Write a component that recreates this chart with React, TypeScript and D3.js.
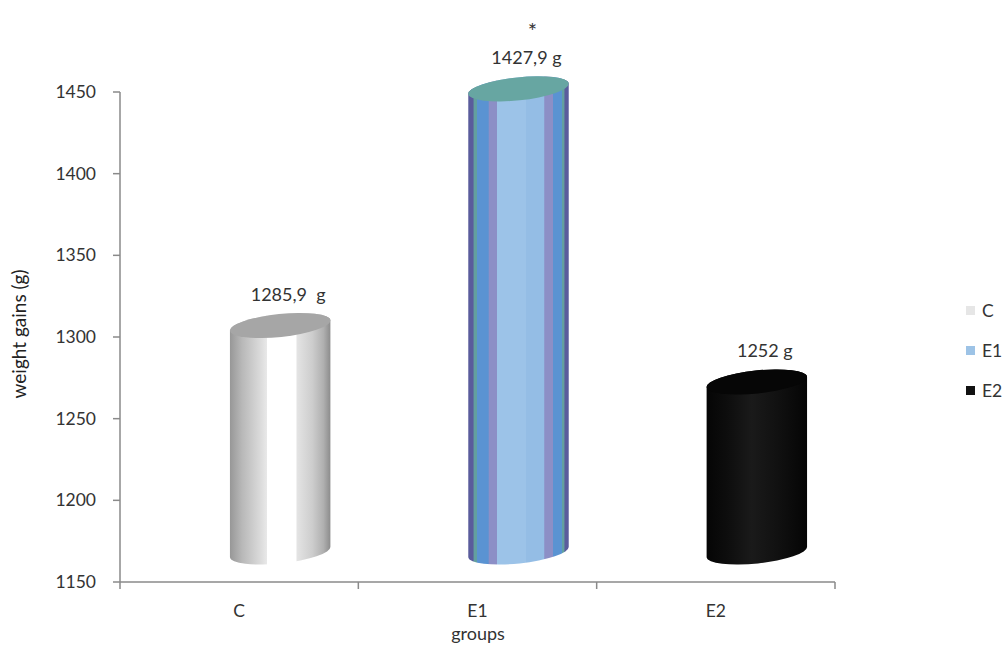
import React from "react";
import * as d3 from "d3";

const categories = ["C", "E1", "E2"];
const values = [1285.9, 1427.9, 1252];
const valueLabels = ["1285,9  g", "1427,9 g", "1252 g"];
const significance = ["", "*", ""];
const yTicks = [1150, 1200, 1250, 1300, 1350, 1400, 1450];
const legendColors = ["#e6e6e6", "#9dc3e6", "#111111"];

const W = 1005;
const H = 645;
const FONT = "Lato, 'Open Sans', sans-serif";

const gradients: { id: string; stops: [number, string][] }[] = [
  {
    id: "gC",
    stops: [
      [0, "#979797"], [0.12, "#b8b8b8"], [0.3, "#dadada"], [0.365, "#e8e8e8"],
      [0.37, "#ffffff"], [0.66, "#ffffff"], [0.665, "#e4e4e4"], [0.82, "#cdcdcd"],
      [0.93, "#b0b0b0"], [1, "#8c8c8c"],
    ],
  },
  {
    id: "gE1",
    stops: [
      [0, "#5a5c9c"], [0.05, "#5a5c9c"], [0.055, "#63a0a0"], [0.085, "#63a0a0"],
      [0.09, "#5a93d2"], [0.2, "#5a93d2"], [0.205, "#8c8fc6"], [0.285, "#8c8fc6"],
      [0.29, "#9cc3e8"], [0.57, "#9cc3e8"], [0.575, "#94bde5"], [0.755, "#94bde5"],
      [0.76, "#8c8fc6"], [0.84, "#8c8fc6"], [0.845, "#5a93d2"], [0.93, "#5a93d2"],
      [0.935, "#63a0a0"], [0.955, "#63a0a0"], [0.96, "#5a5c9c"], [1, "#5a5c9c"],
    ],
  },
  {
    id: "gE2",
    stops: [
      [0, "#050505"], [0.2, "#0d0d0d"], [0.45, "#1a1a1a"], [0.7, "#111111"], [1, "#050505"],
    ],
  },
];
const topFills = ["#a6a6a6", "#67a6a2", "#060606"];

export default function App() {
  const y = d3.scaleLinear().domain([1150, 1450]).range([582, 92]);
  const x = d3.scaleBand<string>().domain(categories).range([120, 835]);
  // projected (3D front plane) scale for the cylinders
  const y3 = d3.scaleLinear().domain([1150, 1450]).range([552, 52]);
  const depthShift = 41;
  const rx = 50.5;
  const ry = 11.5;
  const tilt = -6;
  const th = (tilt * Math.PI) / 180;
  const dx = rx * Math.cos(th);
  const dy = rx * Math.sin(th);

  const xTicks = [120, ...categories.map((c) => (x(c) as number) + x.bandwidth())];

  return (
    <svg
      width={W}
      height={H}
      style={{ position: "absolute", left: 0, top: 0, background: "#fff" }}
      fontFamily={FONT}
    >
      <defs>
        {gradients.map((g) => (
          <linearGradient key={g.id} id={g.id} x1="0" x2="1" y1="0" y2="0">
            {g.stops.map(([o, c], i) => (
              <stop key={i} offset={o} stopColor={c} />
            ))}
          </linearGradient>
        ))}
      </defs>

      {/* Y axis */}
      <line x1={120} x2={120} y1={y(1450)} y2={y(1150)} stroke="#8a8a8a" strokeWidth={1.5} />
      {yTicks.map((t) => (
        <g key={t}>
          <line x1={113} x2={120} y1={y(t)} y2={y(t)} stroke="#8a8a8a" strokeWidth={1.5} />
          <text x={96} y={y(t)} dy="0.35em" textAnchor="end" fontSize={17.5} fill="#333">
            {t}
          </text>
        </g>
      ))}
      <text
        transform={`translate(26,334) rotate(-90)`}
        textAnchor="middle"
        fontSize={19}
        fill="#222"
      >
        weight gains (g)
      </text>

      {/* X axis */}
      <line x1={120} x2={835} y1={y(1150)} y2={y(1150)} stroke="#8a8a8a" strokeWidth={1.5} />
      {xTicks.map((t, i) => (
        <line key={i} x1={t} x2={t} y1={y(1150)} y2={y(1150) + 7} stroke="#8a8a8a" strokeWidth={1.5} />
      ))}
      {categories.map((c) => (
        <text
          key={c}
          x={(x(c) as number) + x.bandwidth() / 2}
          y={617}
          textAnchor="middle"
          fontSize={17.5}
          fill="#333"
        >
          {c}
        </text>
      ))}
      <text x={478} y={640} textAnchor="middle" fontSize={18} fill="#333">
        groups
      </text>

      {/* Cylinders */}
      {categories.map((c, i) => {
        const cx = (x(c) as number) + x.bandwidth() / 2 + depthShift;
        const topY = y3(values[i]);
        const botY = y3(1150);
        const body =
          `M${cx - dx},${topY - dy} L${cx - dx},${botY - dy} ` +
          `A${rx},${ry} ${tilt} 0 0 ${cx + dx},${botY + dy} ` +
          `L${cx + dx},${topY + dy} ` +
          `A${rx},${ry} ${tilt} 0 0 ${cx - dx},${topY - dy} Z`;
        return (
          <g key={c}>
            <path d={body} fill={`url(#${gradients[i].id})`} />
            <ellipse
              cx={cx}
              cy={topY}
              rx={rx}
              ry={ry}
              transform={`rotate(${tilt},${cx},${topY})`}
              fill={topFills[i]}
            />
            <text
              x={cx + 8}
              y={topY - 25}
              textAnchor="middle"
              fontSize={18}
              fill="#333"
              style={{ whiteSpace: "pre" }}
            >
              {valueLabels[i]}
            </text>
            {significance[i] && (
              <text x={cx + 14} y={topY - 50} textAnchor="middle" fontSize={22} fill="#333">
                {significance[i]}
              </text>
            )}
          </g>
        );
      })}

      {/* Legend */}
      {categories.map((c, i) => (
        <g key={c} transform={`translate(966,${311 + i * 40})`}>
          <rect x={0} y={-5} width={9} height={9} fill={legendColors[i]} />
          <text x={16} y={0} dy="0.35em" fontSize={17.5} fill="#333">
            {c}
          </text>
        </g>
      ))}
    </svg>
  );
}
